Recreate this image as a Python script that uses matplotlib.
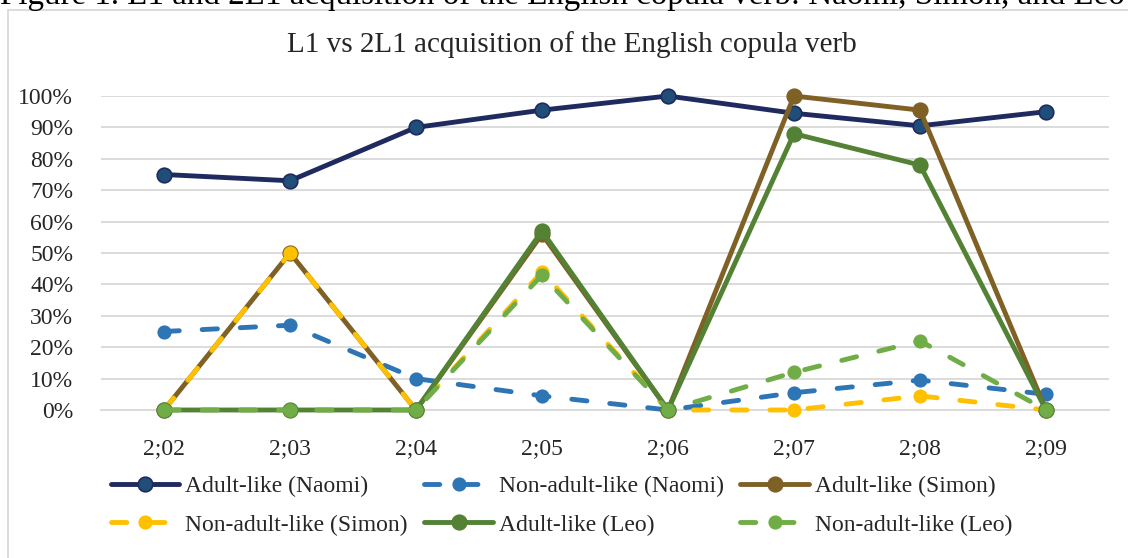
import matplotlib
matplotlib.use("Agg")
import matplotlib.pyplot as plt
from matplotlib.patches import Rectangle
from matplotlib.ticker import PercentFormatter

plt.rcParams['font.family'] = ['Liberation Serif', 'DejaVu Serif']
plt.rcParams['lines.scale_dashes'] = False

# data (percent)
ages = ['2;02', '2;03', '2;04', '2;05', '2;06', '2;07', '2;08', '2;09']
naomi_adult = [75, 73, 90, 95.5, 100, 94.5, 90.5, 95]
naomi_non = [25, 27, 10, 4.5, 0, 5.5, 9.5, 5]
simon_adult = [0, 50, 0, 56, 0, 100, 95.5, 0]
simon_non = [0, 50, 0, 44, 0, 0, 4.5, 0]
leo_adult = [0, 0, 0, 57, 0, 88, 78, 0]
leo_non = [0, 0, 0, 43, 0, 12, 22, 0]

fig = plt.figure(figsize=(11.28, 5.58), dpi=100)
ax = fig.add_axes([101 / 1128, 1 - 410 / 558, 1008 / 1128, 314 / 558])

x = list(range(len(ages)))
dash = (0, (11, 16.5))

series = [
    (naomi_adult, 'Adult-like (Naomi)', '#1f2a5e', '#1f4e79', '-'),
    (naomi_non, 'Non-adult-like (Naomi)', '#2e75b6', '#2e75b6', dash),
    (simon_adult, 'Adult-like (Simon)', '#7f6125', '#7f6125', '-'),
    (simon_non, 'Non-adult-like (Simon)', '#ffc000', '#ffc000', dash),
    (leo_adult, 'Adult-like (Leo)', '#548235', '#548235', '-'),
    (leo_non, 'Non-adult-like (Leo)', '#70ad47', '#70ad47', dash),
]

handles = []
for vals, label, col, fill, ls in series:
    ms = 9 if ls == dash else 10.5
    ln, = ax.plot(x, [v / 100 for v in vals], color=col, lw=3.5, ls=ls,
                  marker='o', ms=ms, mfc=fill, mec=col, mew=1.2,
                  dash_capstyle='round', solid_capstyle='round',
                  clip_on=False, label=label, zorder=3)
    handles.append(ln)

ax.set_xlim(-0.5, len(ages) - 0.5)
ax.set_ylim(0, 1)
ax.set_yticks([i / 10 for i in range(11)])
ax.yaxis.set_major_formatter(PercentFormatter(1.0, decimals=0))
ax.set_xticks(x)
ax.set_xticklabels(ages)
ax.tick_params(length=0, labelsize=17, colors='#262626')
ax.tick_params(axis='y', pad=20)
ax.tick_params(axis='x', pad=20)
ax.grid(axis='y', color='#d9d9d9', lw=1.3)
ax.set_axisbelow(True)
for s in ['top', 'right', 'left']:
    ax.spines[s].set_visible(False)
ax.spines['bottom'].set_color('#d9d9d9')
ax.spines['bottom'].set_linewidth(1.3)

fig.text(572 / 1128, 1 - 45 / 558, 'L1 vs 2L1 acquisition of the English copula verb',
         ha='center', va='center', fontsize=21, color='#262626')

# caption of the figure, cut off at the top of the screenshot
fig.text(0, 1 - 4 / 558,
         'Figure 1. L1 and 2L1 acquisition of the English copula verb: Naomi, Simon, and Leo',
         ha='left', va='baseline', fontsize=23.8, color='black')

fig.patches.append(Rectangle((8 / 1128, -0.1), 1.2, 1 - 9.5 / 558 + 0.1,
                             transform=fig.transFigure, fill=False,
                             ec='#d9d9d9', lw=1.3))

order = [0, 3, 1, 4, 2, 5]
leg = fig.legend([handles[i] for i in order], [handles[i].get_label() for i in order],
                 ncol=3, loc='upper left', bbox_to_anchor=(111 / 1128, 1 - 476 / 558),
                 frameon=False, fontsize=17, handlelength=2.9, handletextpad=0.25,
                 columnspacing=0.7, labelspacing=0.7, borderpad=0, borderaxespad=0)
for t in leg.get_texts():
    t.set_color('#262626')

fig.savefig('out.png', dpi=100)
